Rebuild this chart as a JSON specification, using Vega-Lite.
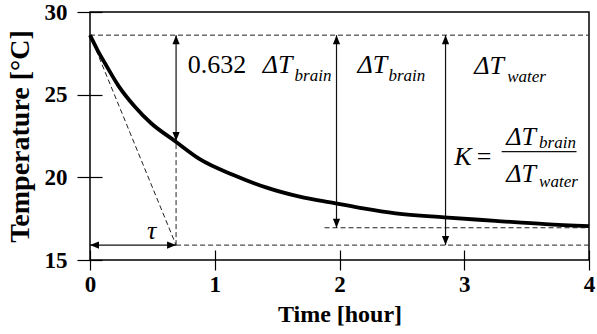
{
  "$schema": "https://vega.github.io/schema/vega-lite/v6.json",
  "width": 499,
  "height": 248,
  "autosize": {"type": "none"},
  "padding": {"left": 90, "top": 12, "right": 8, "bottom": 74},
  "background": "#ffffff",
  "config": {
    "font": "Times New Roman, Liberation Serif, serif",
    "view": {"stroke": "black", "strokeWidth": 1.5},
    "axis": {
      "grid": false,
      "domain": false,
      "labelFont": "Times New Roman, Liberation Serif, serif",
      "labelFontWeight": "bold",
      "labelFontSize": 23,
      "labelColor": "black",
      "tickColor": "black",
      "tickWidth": 1.2,
      "titleFont": "Times New Roman, Liberation Serif, serif",
      "titleFontWeight": "bold",
      "titleColor": "black",
      "titleFontSize": 24
    }
  },
  "datasets": {
    "curve": [
      {"x": 0, "y": 28.6}, {"x": 0.06, "y": 27.7}, {"x": 0.12, "y": 26.9},
      {"x": 0.227, "y": 25.55}, {"x": 0.36, "y": 24.27}, {"x": 0.49, "y": 23.27},
      {"x": 0.68, "y": 22.2}, {"x": 0.88, "y": 21.1}, {"x": 1.15, "y": 20.14},
      {"x": 1.41, "y": 19.39}, {"x": 1.68, "y": 18.83}, {"x": 1.97, "y": 18.43},
      {"x": 2.19, "y": 18.12}, {"x": 2.45, "y": 17.82}, {"x": 2.84, "y": 17.58},
      {"x": 3.25, "y": 17.37}, {"x": 3.65, "y": 17.17}, {"x": 4.0, "y": 17.05}
    ],
    "dashed": [
      {"x": 0, "y": 28.6, "x2": 4, "y2": 28.6},
      {"x": 0, "y": 28.6, "x2": 0.69, "y2": 15.9},
      {"x": 0.69, "y": 15.9, "x2": 0.69, "y2": 22.2},
      {"x": 0.69, "y": 15.9, "x2": 4, "y2": 15.9},
      {"x": 1.88, "y": 16.95, "x2": 4, "y2": 16.95}
    ],
    "solid": [
      {"x": 0.69, "y": 28.6, "x2": 0.69, "y2": 22.2},
      {"x": 1.976, "y": 28.6, "x2": 1.976, "y2": 16.95},
      {"x": 2.85, "y": 28.6, "x2": 2.85, "y2": 15.9},
      {"x": 0, "y": 15.9, "x2": 0.69, "y2": 15.9},
      {"x": 3.3, "y": 21.55, "x2": 3.9, "y2": 21.55}
    ],
    "heads": [
      {"x": 0.69, "y": 28.6, "dir": "up"}, {"x": 0.69, "y": 22.2, "dir": "down"},
      {"x": 1.976, "y": 28.6, "dir": "up"}, {"x": 1.976, "y": 16.95, "dir": "down"},
      {"x": 2.85, "y": 28.6, "dir": "up"}, {"x": 2.85, "y": 15.9, "dir": "down"},
      {"x": 0, "y": 15.9, "dir": "left"}, {"x": 0.69, "y": 15.9, "dir": "right"}
    ],
    "upright": [
      {"x": 0.784, "y": 26.31, "label": "0.632"},
      {"x": 3.1, "y": 20.74, "label": "="}
    ],
    "italic": [
      {"x": 1.384, "y": 26.31, "label": "ΔT"},
      {"x": 2.144, "y": 26.31, "label": "ΔT"},
      {"x": 3.08, "y": 26.25, "label": "ΔT"},
      {"x": 2.92, "y": 20.74, "label": "K"},
      {"x": 3.336, "y": 21.95, "label": "ΔT"},
      {"x": 3.336, "y": 19.72, "label": "ΔT"},
      {"x": 0.456, "y": 16.27, "label": "τ"}
    ],
    "subs": [
      {"x": 1.64, "y": 25.83, "label": "brain"},
      {"x": 2.392, "y": 25.83, "label": "brain"},
      {"x": 3.344, "y": 25.77, "label": "water"},
      {"x": 3.6, "y": 21.77, "label": "brain"},
      {"x": 3.6, "y": 19.4, "label": "water"}
    ]
  },
  "encoding": {
    "x": {
      "field": "x", "type": "quantitative",
      "scale": {"domain": [0, 4], "nice": false, "zero": false},
      "axis": {"values": [0, 1, 2, 3, 4], "title": "Time [hour]", "offset": -10, "tickSize": 20, "labelPadding": 3, "titlePadding": 6, "labelFlush": false}
    },
    "y": {
      "field": "y", "type": "quantitative",
      "scale": {"domain": [15, 30], "nice": false, "zero": false},
      "axis": {"values": [15, 20, 25, 30], "title": "Temperature [°C]", "offset": -12, "tickSize": 25, "labelPadding": 10, "titlePadding": 10, "titleFontSize": 28, "labelFlush": false}
    }
  },
  "layer": [
    {
      "data": {"name": "dashed"},
      "mark": {"type": "rule", "color": "#222", "strokeWidth": 1, "strokeDash": [5, 3]},
      "encoding": {"x2": {"field": "x2"}, "y2": {"field": "y2"}}
    },
    {
      "data": {"name": "solid"},
      "mark": {"type": "rule", "color": "#111", "strokeWidth": 1.2},
      "encoding": {"x2": {"field": "x2"}, "y2": {"field": "y2"}}
    },
    {
      "data": {"name": "curve"},
      "mark": {"type": "line", "color": "black", "strokeWidth": 3.8, "interpolate": "monotone"}
    },
    {
      "data": {"name": "heads"},
      "mark": {"type": "point", "filled": true, "color": "black", "opacity": 1, "size": 324, "strokeWidth": 0},
      "encoding": {
        "shape": {
          "field": "dir", "type": "nominal", "legend": null,
          "scale": {
            "domain": ["up", "down", "left", "right"],
            "range": ["M-0.4,1L0.4,1L0,0Z", "M-0.4,-1L0.4,-1L0,0Z", "M1,-0.4L1,0.4L0,0Z", "M-1,-0.4L-1,0.4L0,0Z"]
          }
        }
      }
    },
    {
      "data": {"name": "upright"},
      "mark": {"type": "text", "font": "Times New Roman, Liberation Serif, serif", "fontSize": 26, "color": "black", "align": "left", "baseline": "alphabetic"},
      "encoding": {"text": {"field": "label"}}
    },
    {
      "data": {"name": "italic"},
      "mark": {"type": "text", "font": "Times New Roman, Liberation Serif, serif", "fontSize": 26, "fontStyle": "italic", "color": "black", "align": "left", "baseline": "alphabetic"},
      "encoding": {"text": {"field": "label"}}
    },
    {
      "data": {"name": "subs"},
      "mark": {"type": "text", "font": "Times New Roman, Liberation Serif, serif", "fontSize": 17, "fontStyle": "italic", "color": "black", "align": "left", "baseline": "alphabetic"},
      "encoding": {"text": {"field": "label"}}
    }
  ]
}
